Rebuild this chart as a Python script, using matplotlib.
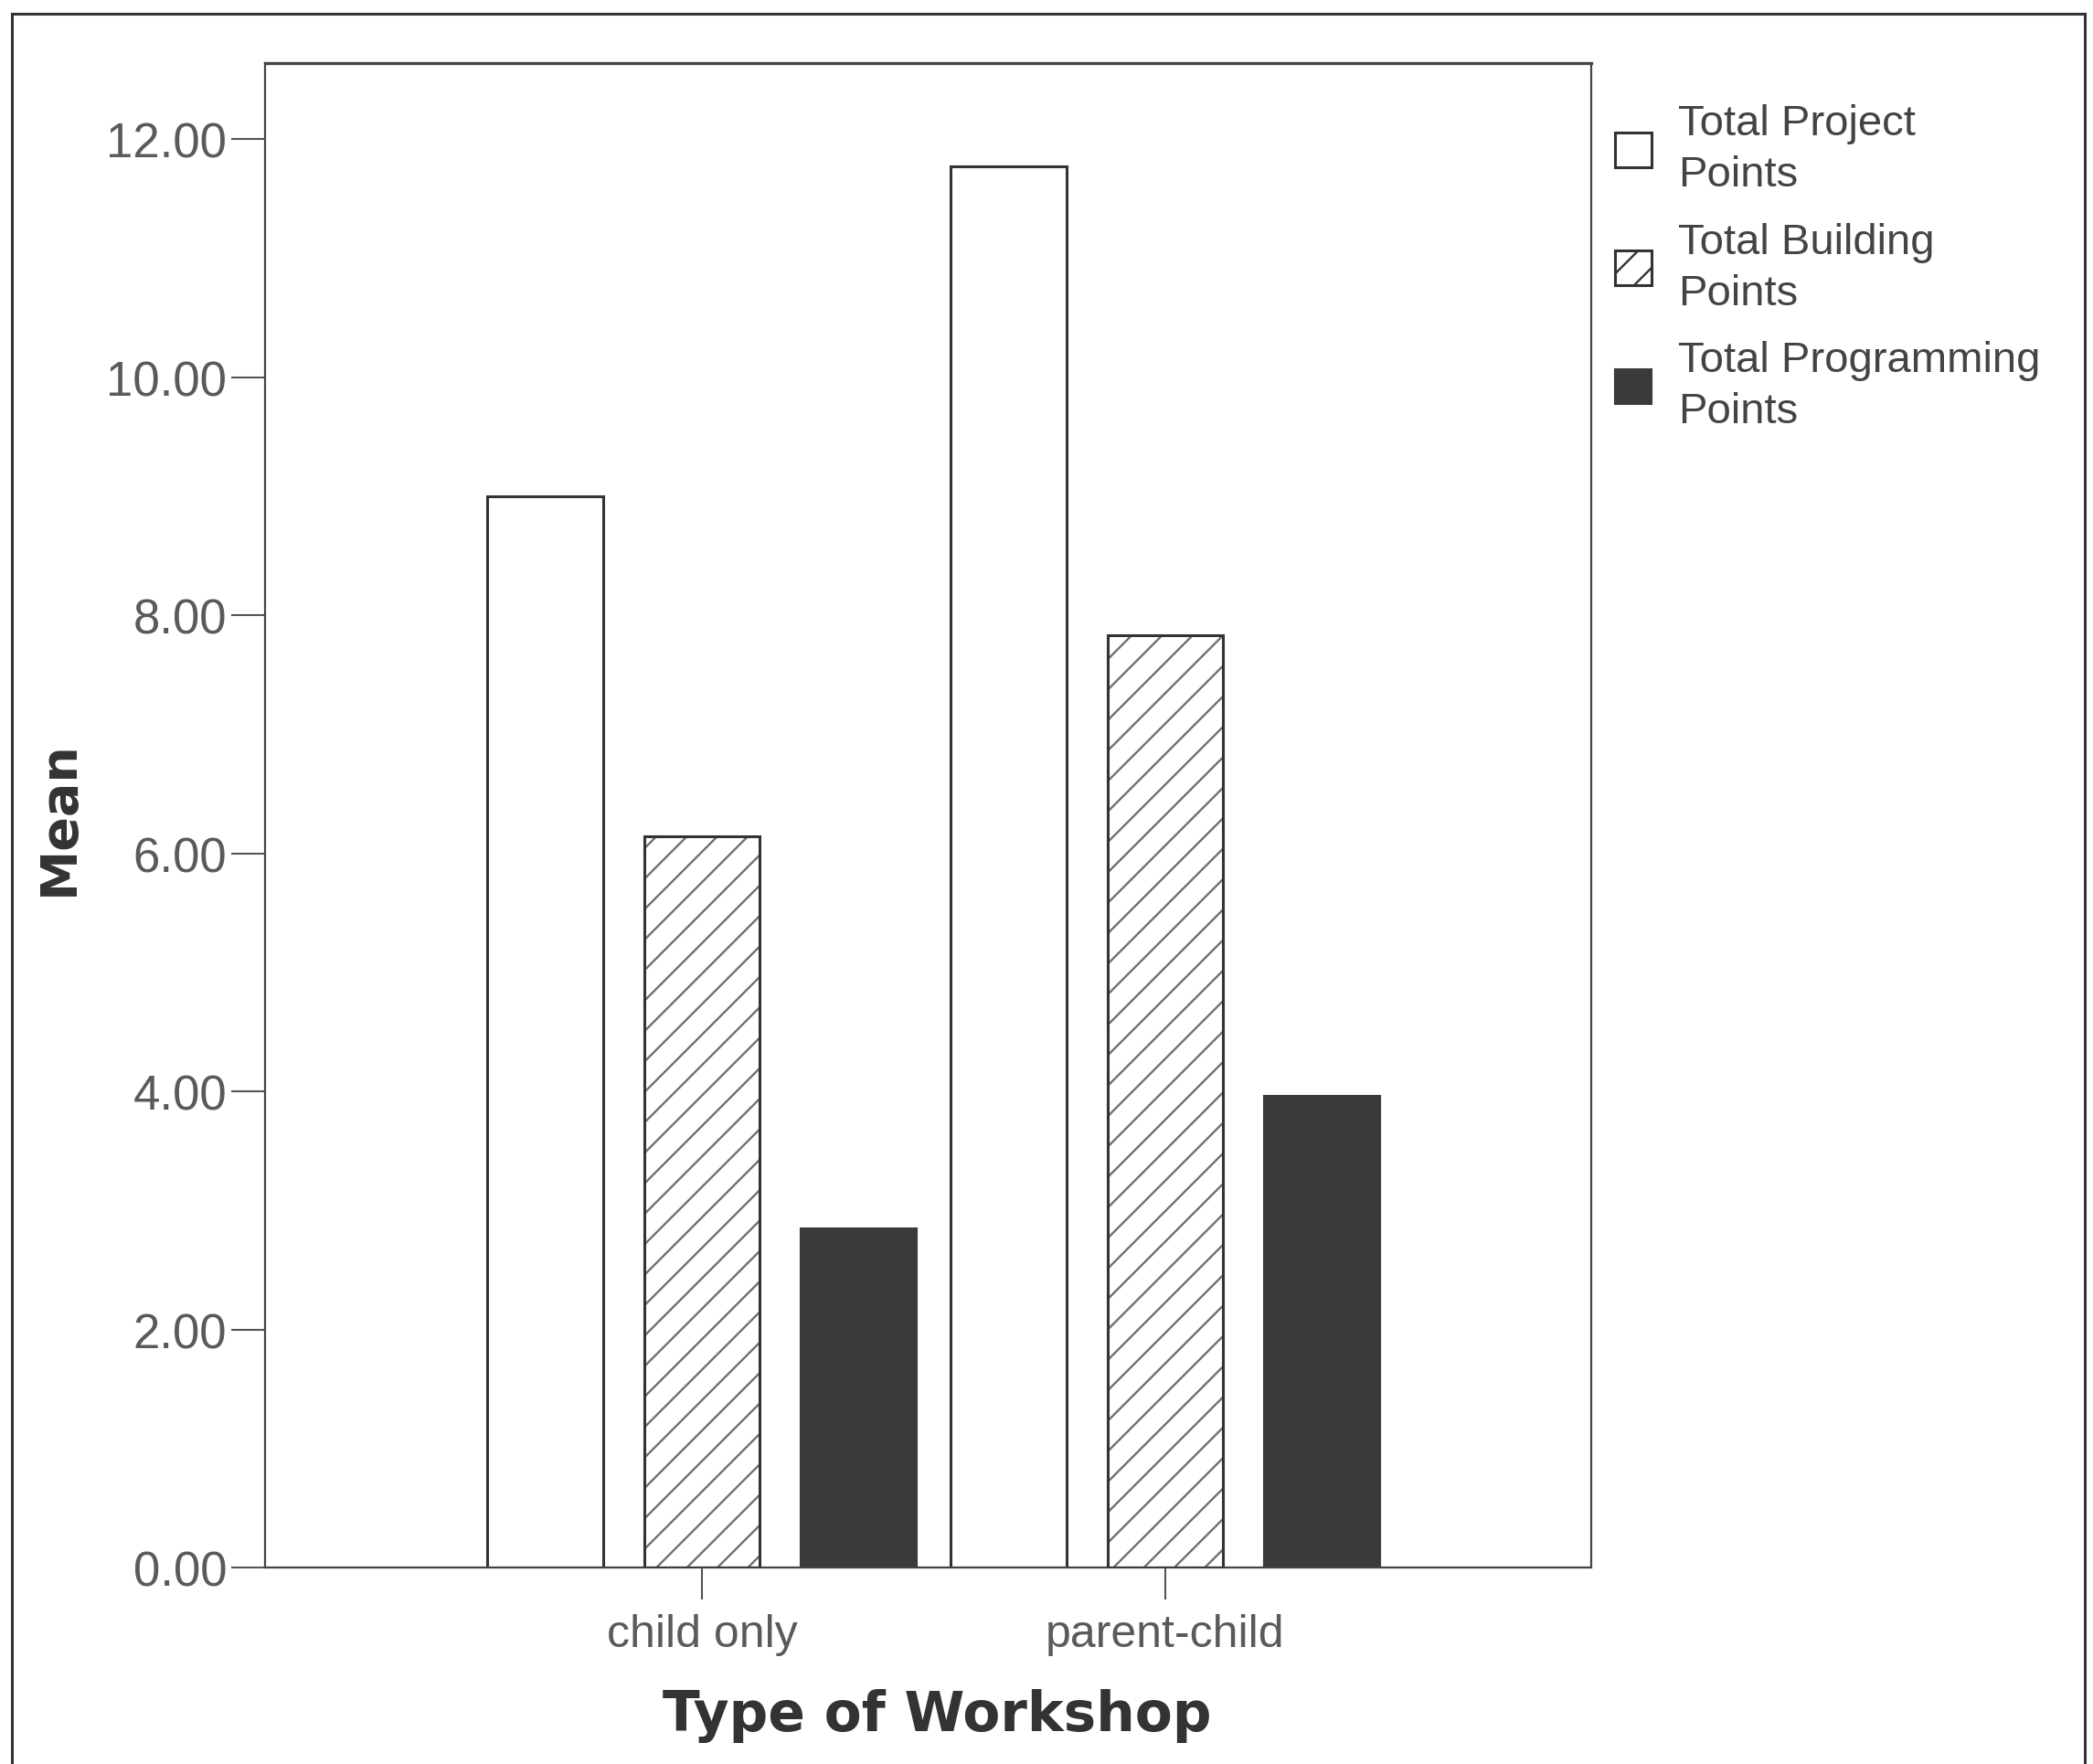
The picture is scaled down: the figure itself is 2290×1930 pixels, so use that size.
import matplotlib
matplotlib.use("Agg")
import matplotlib.pyplot as plt
import numpy as np
from matplotlib.patches import Patch
from matplotlib.lines import Line2D

# ---- data ----
categories = ["child only", "parent-child"]
series_names = ["Total Project\nPoints", "Total Building\nPoints", "Total Programming\nPoints"]
project_points = [9.00, 11.77]
building_points = [6.14, 7.83]
programming_points = [2.85, 3.96]
y_ticks = [0, 2, 4, 6, 8, 10, 12]

plt.rcParams["hatch.linewidth"] = 1.7

fig = plt.figure(figsize=(22.90, 19.31), dpi=100)
ax = fig.add_axes([290 / 2290, 215 / 1931, (1741 - 290) / 2290, (1861 - 215) / 1931])

x = np.arange(len(categories))
w = 0.25
off = 0.338
edge = "#333333"

# Project bars
ax.bar(x - off, project_points, w, facecolor="white", edgecolor=edge, linewidth=2.2, zorder=2)
# Building bars: hatch layer + outline layer
ax.bar(x, building_points, w, facecolor="white", edgecolor="#707070", linewidth=0, hatch="/", zorder=2)
ax.bar(x, building_points, w, fill=False, edgecolor=edge, linewidth=2.2, zorder=3)
# Programming bars
ax.bar(x + off, programming_points, w, facecolor="#3a3a3a", edgecolor="#3a3a3a", linewidth=1.5, zorder=2)

ax.set_xlim(-0.943, 1.919)
ax.set_ylim(0, 12.64)

ax.set_yticks(y_ticks)
ax.set_yticklabels([f"{v:.2f}" for v in y_ticks], fontfamily="Liberation Sans", fontsize=38, color="#5a5a5a")
ax.set_xticks(x)
ax.set_xticklabels(categories, fontfamily="Liberation Sans", fontsize=36, color="#5a5a5a")
ax.tick_params(axis="y", direction="out", length=27, width=1.5, color="#555555", pad=3)
ax.tick_params(axis="x", direction="out", length=25, width=1.5, color="#555555", pad=11)

for s in ax.spines.values():
    s.set_linewidth(1.6)
    s.set_color("#444444")
ax.spines["top"].set_linewidth(2.4)

ax.set_ylabel("Mean", fontsize=40, fontweight="bold", color="#333333", fontfamily="DejaVu Sans")
ax.yaxis.set_label_coords(-0.155, 0.499)
ax.yaxis.label.set_va("center")
ax.set_xlabel("Type of Workshop", fontsize=43, fontweight="bold", color="#333333", fontfamily="DejaVu Sans")
ax.xaxis.set_label_coords(0.5066, -0.098)
ax.xaxis.label.set_va("center")

handles = [
    Patch(facecolor="white", edgecolor=edge, linewidth=2.2),
    Patch(facecolor="white", edgecolor=edge, linewidth=2.2, hatch="/"),
    Patch(facecolor="#3a3a3a", edgecolor="#3a3a3a", linewidth=1.5),
]
leg = fig.legend(handles, series_names, loc="upper left",
                 bbox_to_anchor=(1767 / 2290, 1 - 114 / 1931),
                 frameon=False, borderpad=0, borderaxespad=0,
                 prop={"family": "Liberation Sans", "size": 34},
                 handlelength=0.85, handleheight=0.85, handletextpad=0.62,
                 labelspacing=0.62, labelcolor="#444444")
for t in leg.get_texts():
    t.set_linespacing(1.36)

# outer frame of the original figure
fig.add_artist(Line2D([13 / 2290, 2281 / 2290], [1 - 16 / 1931, 1 - 16 / 1931],
                      transform=fig.transFigure, color="#333333", linewidth=2.2))
fig.add_artist(Line2D([13 / 2290, 13 / 2290], [0, 1 - 16 / 1931],
                      transform=fig.transFigure, color="#333333", linewidth=2.2))
fig.add_artist(Line2D([2281 / 2290, 2281 / 2290], [0, 1 - 16 / 1931],
                      transform=fig.transFigure, color="#333333", linewidth=2.2))

fig.savefig("out.png", dpi=100, facecolor="white")
